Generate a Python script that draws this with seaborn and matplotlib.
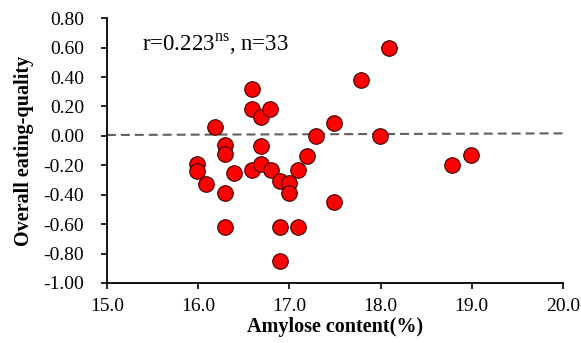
import matplotlib
matplotlib.use("Agg")
import matplotlib.pyplot as plt
import seaborn as sns
import pandas as pd

amylose = [16.59, 16.59, 16.69, 16.79, 16.19, 16.29, 16.29, 16.69, 15.99, 15.99,
           16.09, 16.39, 16.59, 16.69, 16.80, 16.90, 17.00, 17.00, 17.10, 17.19,
           16.29, 16.29, 16.90, 17.10, 16.90, 17.29, 17.49, 17.49, 18.09, 17.79,
           17.99, 18.78, 18.99]
quality = [0.32, 0.18, 0.13, 0.18, 0.06, -0.06, -0.12, -0.07, -0.19, -0.24,
           -0.33, -0.25, -0.23, -0.19, -0.23, -0.31, -0.32, -0.39, -0.23, -0.14,
           -0.39, -0.62, -0.62, -0.62, -0.85, 0.00, 0.09, -0.45, 0.60, 0.38,
           0.00, -0.20, -0.13]
ref_x = [15.0, 20.0]
ref_y = [0.006, 0.017]
x_ticks = [15.0, 16.0, 17.0, 18.0, 19.0, 20.0]
y_ticks = [0.8, 0.6, 0.4, 0.2, 0.0, -0.2, -0.4, -0.6, -0.8, -1.0]

sns.set_theme(style="white")
plt.rcParams['font.family'] = ['Liberation Serif', 'DejaVu Serif']
plt.rcParams['mathtext.fontset'] = 'custom'
plt.rcParams['mathtext.rm'] = 'Liberation Serif'
plt.rcParams['text.color'] = 'black'
plt.rcParams['axes.labelcolor'] = 'black'

df = pd.DataFrame({"x": amylose, "y": quality})

fig = plt.figure(figsize=(5.81, 3.43), dpi=100)
ax = fig.add_axes([0.184, 0.175, 0.785, 0.772])

sns.lineplot(x=ref_x, y=ref_y, ax=ax, color="#606060", linewidth=1.5,
             linestyle=(0, (4.3, 2.4)), zorder=1)
sns.scatterplot(data=df, x="x", y="y", ax=ax, s=125, color="#ff0000",
                edgecolor="#3a0000", linewidth=0.8, zorder=3)

ax.set_xlim(15.0, 20.0)
ax.set_ylim(-1.0, 0.8)
ax.set_xticks(x_ticks)
ax.set_xticklabels([f"{v:.1f}" for v in x_ticks])
ax.set_yticks(y_ticks)
ax.set_yticklabels([f"{v:.2f}" for v in y_ticks])
ax.tick_params(axis="both", direction="out", length=4.5, width=1.2, colors="black",
               labelsize=14, bottom=True, left=True)
ax.tick_params(axis="x", pad=6)
ax.tick_params(axis="y", pad=12)
for s in ["top", "right"]:
    ax.spines[s].set_visible(False)
for s in ["left", "bottom"]:
    ax.spines[s].set_color("black")
    ax.spines[s].set_linewidth(1.3)

ax.set_xlabel("Amylose content(%)", fontsize=14.5, fontweight="bold", labelpad=2,
              color="black")
ax.set_ylabel("Overall eating-quality", fontsize=14.5, fontweight="bold", labelpad=7,
              color="black")

ax.text(15.38, 0.62, r"r=0.223$^{\mathrm{ns}}$, n=33", fontsize=16.5,
        ha="left", va="center", color="black")

fig.savefig("out.png", dpi=100)
